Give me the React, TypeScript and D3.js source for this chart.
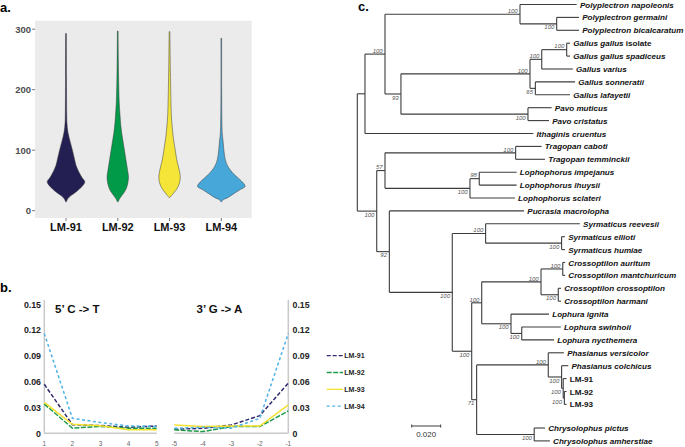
import React from "react";
import * as d3 from "d3";

const FONT = "'Liberation Sans', Arial, Helvetica, sans-serif";

// ---------- Panel a: read-length violins ----------
const VIOLIN_SAMPLES = ["LM-91", "LM-92", "LM-93", "LM-94"];
const VIOLIN_FILLS = ["#231f52", "#009a49", "#f4e538", "#46a7d8"];
const VIOLIN_TICKS = [0, 100, 200, 300];
// read length (bp) and relative density (% of max)
const LEN_LM91 = [15, 20, 25, 31, 40, 48, 55, 65, 75, 85, 100, 115, 130, 145, 160, 220, 293];
const DEN_LM91 = [2, 8, 21, 42, 67, 79, 67, 53, 42, 36, 27, 17, 8, 4, 3, 2, 1.5];
const LEN_LM92 = [15, 20, 27, 35, 45, 56, 65, 75, 85, 100, 115, 127, 140, 155, 180, 210, 250, 297];
const DEN_LM92 = [2, 8, 21, 34, 42, 45, 42, 38, 34, 28, 22, 17, 13, 10, 6, 4, 2.5, 1.5];
const LEN_LM93 = [22, 27, 33, 40, 48, 56, 65, 75, 85, 100, 115, 127, 140, 155, 180, 220, 260, 296];
const DEN_LM93 = [2, 13, 25, 36, 43, 45, 42, 36, 30, 24, 18, 14, 11, 8, 6, 4, 2.5, 1.5];
const LEN_LM94 = [15, 18, 22, 29, 35, 40, 46, 53, 62, 73, 84, 100, 117, 128, 150, 200, 285];
const DEN_LM94 = [2, 8, 29, 56, 80, 100, 92, 74, 49, 28, 17, 11, 7, 4, 2.5, 1.5, 1.5];
const VIOLIN_LENS = [LEN_LM91, LEN_LM92, LEN_LM93, LEN_LM94];
const VIOLIN_DENS = [DEN_LM91, DEN_LM92, DEN_LM93, DEN_LM94];

// ---------- Panel b: damage patterns ----------
const CT_POS = [1, 2, 3, 4, 5];
const GA_POS = [-5, -4, -3, -2, -1];
const DMG_TICKS = [0, 0.03, 0.06, 0.09, 0.12, 0.15];
const DMG_SAMPLES = ["LM-91", "LM-92", "LM-93", "LM-94"];
const DMG_COLORS = ["#2f2a6e", "#1f9a4a", "#f2e12e", "#4cb2e8"];
const DMG_DASH = ["4,2", "5,1.5", "", "3,2.5"];
const CT_LM91 = [0.057, 0.010, 0.009, 0.007, 0.0085];
const CT_LM92 = [0.034, 0.006, 0.008, 0.006, 0.006];
const CT_LM93 = [0.036, 0.0105, 0.0088, 0.004, 0.004];
const CT_LM94 = [0.116, 0.0175, 0.0125, 0.0085, 0.008];
const GA_LM91 = [0.0047, 0.0058, 0.0097, 0.0205, 0.0585];
const GA_LM92 = [0.004, 0.002, 0.0078, 0.0078, 0.026];
const GA_LM93 = [0.0097, 0.008, 0.0085, 0.0085, 0.033];
const GA_LM94 = [0.006, 0.007, 0.006, 0.0174, 0.116];
const CT_VALUES = [CT_LM91, CT_LM92, CT_LM93, CT_LM94];
const GA_VALUES = [GA_LM91, GA_LM92, GA_LM93, GA_LM94];

// ---------- Panel c: phylogeny (id, parent, branch length, bootstrap) ----------
type Row = { id: string; parent: string | null; len: number; boot: number | null };
const TREE_ROWS: [string, string | null, number, number | null][] = [
  ["root", null, 0, null],
  ["A", "root", 0.0053, null],
  ["A1", "A", 0.0138, 100],
  ["Poly", "A1", 0.0931, 100],
  ["Polyplectron napoleonis", "Poly", 0.0391, null],
  ["PgPb", "Poly", 0.0253, 100],
  ["Polyplectron germaini", "PgPb", 0.0154, null],
  ["Polyplectron bicalcaratum", "PgPb", 0.0154, null],
  ["GP", "A1", 0.011, 93],
  ["Gallus", "GP", 0.089, 100],
  ["GgV", "Gallus", 0.0081, 100],
  ["Gg", "GgV", 0.0172, 100],
  ["Gallus gallus isolate", "Gg", 0.0023, null],
  ["Gallus gallus spadiceus", "Gg", 0.0023, null],
  ["Gallus varius", "GgV", 0.0214, null],
  ["SL", "Gallus", 0.0037, 65],
  ["Gallus sonneratii", "SL", 0.0274, null],
  ["Gallus lafayetii", "SL", 0.0239, null],
  ["Pavo", "GP", 0.0876, 100],
  ["Pavo muticus", "Pavo", 0.0163, null],
  ["Pavo cristatus", "Pavo", 0.0145, null],
  ["Ithaginis cruentus", "A", 0.1161, null],
  ["B", "root", 0.0134, 100],
  ["TL", "B", 0.0057, 57],
  ["Trag", "TL", 0.0901, 100],
  ["Tragopan caboti", "Trag", 0.0179, null],
  ["Tragopan temminckii", "Trag", 0.0202, null],
  ["Loph", "TL", 0.0586, 100],
  ["IL", "Loph", 0.0064, 98],
  ["Lophophorus impejanus", "IL", 0.0258, null],
  ["Lophophorus lhuysii", "IL", 0.0258, null],
  ["Lophophorus sclateri", "Loph", 0.031, null],
  ["PR", "B", 0.0087, 92],
  ["Pucrasia macrolopha", "PR", 0.0929, null],
  ["R", "PR", 0.0434, 100],
  ["Syr", "R", 0.023, 100],
  ["Syrmaticus reevesii", "Syr", 0.065, null],
  ["EH", "Syr", 0.0524, 100],
  ["Syrmaticus ellioti", "EH", 0.0023, null],
  ["Syrmaticus humiae", "EH", 0.0023, null],
  ["R2", "R", 0.0134, 100],
  ["CL", "R2", 0.0069, 100],
  ["Cross", "CL", 0.0409, 100],
  ["AM", "Cross", 0.015, 100],
  ["Crossoptilon auritum", "AM", 0.0016, null],
  ["Crossoptilon mantchuricum", "AM", 0.0016, null],
  ["CH", "Cross", 0.0119, 100],
  ["Crossoptilon crossoptilon", "CH", 0.0019, null],
  ["Crossoptilon harmani", "CH", 0.0019, null],
  ["Loph2", "CL", 0.0202, 100],
  ["Lophura ignita", "Loph2", 0.0262, null],
  ["SN", "Loph2", 0.0074, 100],
  ["Lophura swinhoii", "SN", 0.0269, null],
  ["Lophura nycthemera", "SN", 0.0223, null],
  ["PC", "R2", 0.0034, 71],
  ["Phas", "PC", 0.0494, 100],
  ["Phasianus versicolor", "Phas", 0.0108, null],
  ["CLM", "Phas", 0.0092, 100],
  ["Phasianus colchicus", "CLM", 0.0046, null],
  ["LM", "CLM", 0.0011, 100],
  ["LM-91", "LM", 0.0023, null],
  ["LM23", "LM", 0.0008, 100],
  ["LM-92", "LM23", 0.0015, null],
  ["LM-93", "LM23", 0.0015, null],
  ["Chrys", "PC", 0.0397, 100],
  ["Chrysolophus pictus", "Chrys", 0.0074, null],
  ["Chrysolophus amherstiae", "Chrys", 0.0108, null],
];
const SCALE_BAR = 0.02;

function PanelA() {
  const y = d3.scaleLinear().domain([0, 300]).range([210.7, 29.2]);
  const x = d3.scalePoint<string>().domain(VIOLIN_SAMPLES).range([66, 221.3]);
  const w = d3.scaleLinear().domain([0, 100]).range([0, 23.8]);
  return (
    <g fontFamily={FONT}>
      <text x={0} y={12} fontSize={13} fontWeight="bold">a.</text>
      <rect x={35} y={20.7} width={216.7} height={197.3} fill="#ebebeb" />
      {VIOLIN_TICKS.map((t) => (
        <g key={t}>
          <line x1={32} x2={35} y1={y(t)} y2={y(t)} stroke="#555" strokeWidth={0.8} />
          <text x={31} y={y(t) + 3.3} fontSize={9.5} fontWeight="bold" fill="#4d4d4d" textAnchor="end">{t}</text>
        </g>
      ))}
      {VIOLIN_SAMPLES.map((s, i) => {
        const cx = x(s)!;
        const pts = VIOLIN_LENS[i].map((v, j) => [v, VIOLIN_DENS[i][j]] as [number, number]);
        const area = d3
          .area<[number, number]>()
          .y((d) => y(d[0]))
          .x0((d) => cx - w(d[1]))
          .x1((d) => cx + w(d[1]))
          .curve(d3.curveCatmullRom);
        return (
          <g key={s}>
            <line x1={cx} x2={cx} y1={218} y2={221} stroke="#555" strokeWidth={0.8} />
            <path d={area(pts) || ""} fill={VIOLIN_FILLS[i]} stroke="#3a3a3a" strokeWidth={0.5} />
            <text x={cx} y={230.5} fontSize={11} fontWeight="bold" textAnchor="middle" fill="#111">{s}</text>
          </g>
        );
      })}
    </g>
  );
}

function PanelB() {
  const y = d3.scaleLinear().domain([0, 0.15]).range([433.3, 304.3]);
  const xl = d3.scaleLinear().domain([1, 5]).range([44.3, 156.7]);
  const xr = d3.scaleLinear().domain([-5, -1]).range([174.3, 288.3]);
  const line = (xs: d3.ScaleLinear<number, number>, pos: number[]) =>
    d3.line<number>().x((_, i) => xs(pos[i])).y((d) => y(d));
  const axis = "#c9c9c9";
  return (
    <g fontFamily={FONT}>
      <text x={0} y={292} fontSize={13} fontWeight="bold">b.</text>
      <line x1={44.3} x2={44.3} y1={300} y2={433.3} stroke={axis} strokeWidth={1.5} />
      <line x1={288.3} x2={288.3} y1={300} y2={433.3} stroke={axis} strokeWidth={1.5} />
      <line x1={44.3} x2={156.7} y1={433.3} y2={433.3} stroke={axis} strokeWidth={1.5} />
      <line x1={174.3} x2={288.3} y1={433.3} y2={433.3} stroke={axis} strokeWidth={1.5} />
      {DMG_TICKS.map((t) => (
        <g key={t}>
          <text x={41} y={y(t) + 3.2} fontSize={8.8} fontWeight="bold" textAnchor="end" fill="#222">{t === 0 ? "0" : t.toFixed(2)}</text>
          <text x={292.5} y={y(t) + 3.2} fontSize={8.8} fontWeight="bold" fill="#222">{t === 0 ? "0" : t.toFixed(2)}</text>
        </g>
      ))}
      {CT_POS.map((p) => (
        <text key={p} x={xl(p)} y={446} fontSize={6.5} textAnchor="middle" fill="#666">{p}</text>
      ))}
      {GA_POS.map((p) => (
        <text key={p} x={xr(p)} y={446} fontSize={6.5} textAnchor="middle" fill="#666">{p}</text>
      ))}
      <text x={55} y={313} fontSize={11.5} fontWeight="bold" fill="#111">5’ C -&gt; T</text>
      <text x={196.5} y={313} fontSize={11.5} fontWeight="bold" fill="#111">3’ G -&gt; A</text>
      {DMG_SAMPLES.map((s, i) => (
        <g key={s}>
          <path d={line(xl, CT_POS)(CT_VALUES[i]) || ""} fill="none" stroke={DMG_COLORS[i]} strokeWidth={1.5} strokeDasharray={DMG_DASH[i]} />
          <path d={line(xr, GA_POS)(GA_VALUES[i]) || ""} fill="none" stroke={DMG_COLORS[i]} strokeWidth={1.5} strokeDasharray={DMG_DASH[i]} />
        </g>
      ))}
      {DMG_SAMPLES.map((s, i) => {
        const ly = 355.7 + i * 16.8;
        return (
          <g key={"lg" + s}>
            <line x1={326.7} x2={343} y1={ly} y2={ly} stroke={DMG_COLORS[i]} strokeWidth={1.3} strokeDasharray={DMG_DASH[i]} />
            <text x={344.3} y={ly + 2.5} fontSize={7} fontWeight="bold" fill="#222">{s}</text>
          </g>
        );
      })}
    </g>
  );
}

function PanelC() {
  const rows: Row[] = TREE_ROWS.map(([id, parent, len, boot]) => ({ id, parent, len, boot }));
  const root = d3.stratify<Row>().id((d) => d.id).parentId((d) => d.parent)(rows) as any;
  const x = d3.scaleLinear().domain([0, SCALE_BAR]).range([357.3, 357.3 + 29]);
  root.eachBefore((n: any) => {
    n.depthLen = (n.parent ? n.parent.depthLen : 0) + n.data.len;
  });
  const leaves = root.leaves();
  let slot = 0;
  leaves.forEach((l: any) => {
    if (l.data.id === "Chrysolophus pictus") slot += 0.83;
    l.y = 4.5 + slot * 12.9;
    slot += 1;
  });
  root.eachAfter((n: any) => {
    if (n.children) n.y = (n.children[0].y + n.children[n.children.length - 1].y) / 2;
  });
  const nodes = root.descendants();
  const stroke = "#3c3c3c";
  const label = (id: string) => {
    if (id.startsWith("LM-")) return <tspan fontStyle="normal">{id}</tspan>;
    if (id === "Gallus gallus isolate")
      return (
        <>
          <tspan fontStyle="italic">Gallus gallus</tspan>
          <tspan fontStyle="normal"> isolate</tspan>
        </>
      );
    return <tspan fontStyle="italic">{id}</tspan>;
  };
  return (
    <g fontFamily={FONT}>
      <text x={358} y={11} fontSize={13} fontWeight="bold">c.</text>
      {nodes.map((n: any) => (
        <g key={n.data.id}>
          {n.parent && (
            <line x1={x(n.parent.depthLen)} x2={x(n.depthLen)} y1={n.y} y2={n.y} stroke={stroke} strokeWidth={1.1} />
          )}
          {n.children && (
            <line x1={x(n.depthLen)} x2={x(n.depthLen)} y1={n.children[0].y} y2={n.children[n.children.length - 1].y} stroke={stroke} strokeWidth={1.1} />
          )}
          {n.data.boot != null && (
            <text
              x={x(n.depthLen) - 2.3}
              y={n.parent.children[0] === n ? n.y - 1.2 : n.y + 5.6}
              fontSize={6}
              fontStyle="italic"
              fill="#555"
              textAnchor="end"
            >
              {n.data.boot}
            </text>
          )}
          {!n.children && (
            <text x={x(n.depthLen) + 3.2} y={n.y + 3} fontSize={8.1} fontWeight="bold" fill="#111">
              {label(n.data.id)}
            </text>
          )}
        </g>
      ))}
      <g>
        <line x1={411.7} x2={440.7} y1={426} y2={426} stroke={stroke} strokeWidth={1} />
        <line x1={411.7} x2={411.7} y1={424.5} y2={427.5} stroke={stroke} strokeWidth={1} />
        <line x1={440.7} x2={440.7} y1={424.5} y2={427.5} stroke={stroke} strokeWidth={1} />
        <text x={426.2} y={437} fontSize={8} textAnchor="middle" fill="#333">{SCALE_BAR.toFixed(3)}</text>
      </g>
    </g>
  );
}

export default function App() {
  return (
    <svg
      width={685}
      height={447}
      viewBox="0 0 685 447"
      style={{ position: "absolute", left: 0, top: 0, background: "#fff" }}
    >
      <rect width={685} height={447} fill="#fff" />
      <PanelA />
      <PanelB />
      <PanelC />
    </svg>
  );
}
